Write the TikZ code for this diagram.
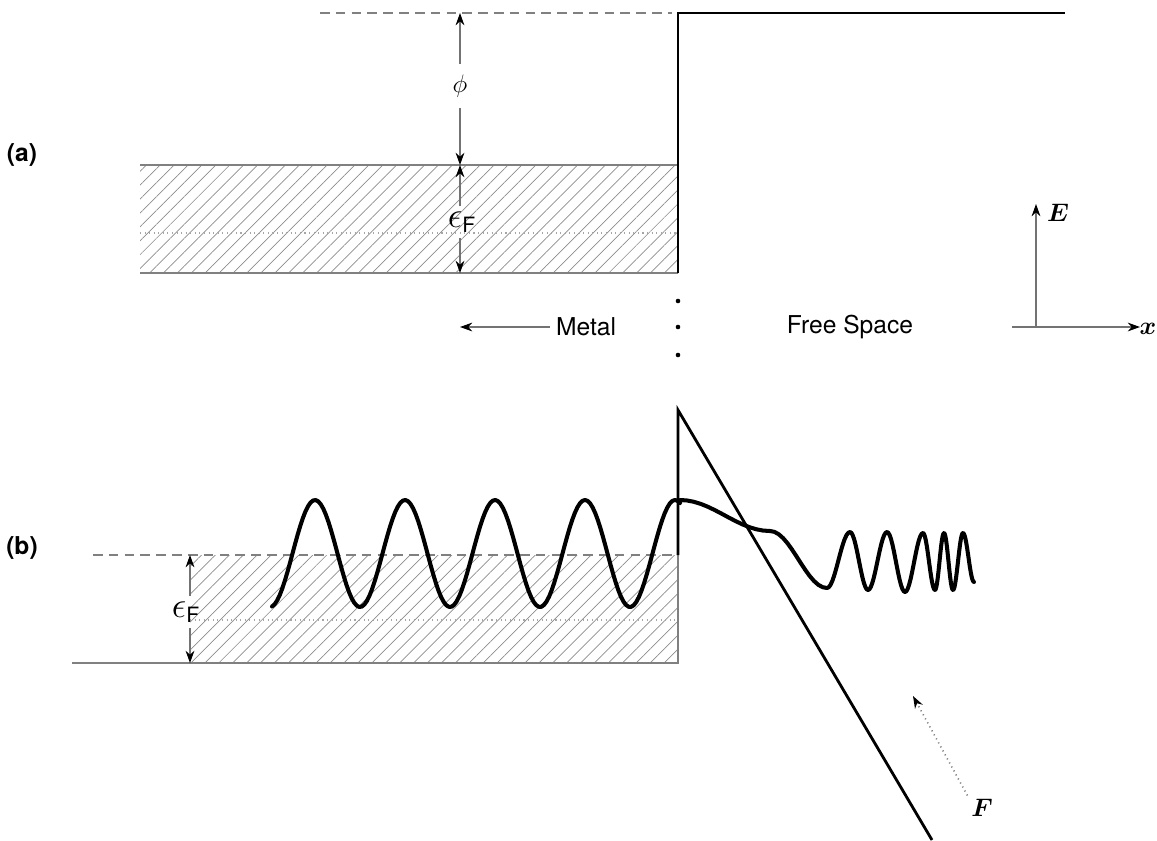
\documentclass[tikz,border=0pt]{standalone}
\usepackage{amsmath,amssymb,bm}
\usepackage{fontspec}
\setsansfont{TeX Gyre Heros}
\usepackage{tikz}
\usetikzlibrary{arrows.meta,patterns.meta,positioning}
\tikzstyle{band} = [pattern={Lines[angle=45,distance=5.6pt,line width=0.4pt]}, pattern color=black!45]
\tikzstyle{level} = [draw=black!50, line width=0.6pt]
\tikzstyle{barrier} = [line width=1.6pt, line join=miter]
\tikzstyle{dim} = [draw=black!55, line width=0.6pt, -{Stealth[black,length=7pt,width=5pt]}]
\tikzstyle{psi} = [line width=2.3pt, line cap=round, line join=round]

\begin{document}
\begin{tikzpicture}[x=0.02cm, y=-0.02cm, font=\fontsize{14}{16}\selectfont\sffamily,
    tag/.style={font=\fontsize{14}{16}\selectfont\sffamily\bfseries},
    sym/.style={inner sep=6pt, fill=white},
    eps/.style={inner sep=3pt, font=\fontsize{21}{23}\selectfont}]
    \useasboundingbox (0,0) rectangle (1157,840);

    % (a) flat potential step
    \path[band] (140,165) rectangle (678,273);
    \draw[black!35, dotted, line width=0.6pt] (140,233) -- (678,233);
    \draw[level] (140,165) -- (678,165);
    \draw[level] (140,273) -- (678,273);
    \draw[level, dash pattern=on 5.5pt off 3.5pt] (320,13) -- (672,13);
    \coordinate (wallA) at (678,273);
    \coordinate (topA) at (678,13);
    \coordinate (endA) at (1065,13);
    \draw[barrier] (wallA) -- (topA) -- (endA);

    \node[tag] (lblA) at (22,155) {(a)};
    \node[sym] (phi) at (460,86) {$\phi$};
    \node[eps] (efA) at (462,222) {$\epsilon_{\textsf{\fontsize{12}{14}\selectfont F}}$};
    \coordinate (vacA) at (460,13);
    \coordinate (fermiA) at (460,165);
    \coordinate (botA) at (460,273);
    \draw[dim] (phi) -- (vacA);
    \draw[dim] (phi) -- (fermiA);
    \draw[dim] (efA.north -| fermiA) -- (fermiA);
    \draw[dim] (efA.south -| botA) -- (botA);

    % middle line
    \node (metal) at (586,327) {Metal};
    \coordinate (metalTip) at (460,327);
    \draw[dim] (metal) -- (metalTip);
    \foreach \y in {301,327,355}
        \fill (678,\y) circle (1.3pt);
    \node (free) at (850,327) {Free Space};

    % axes
    \coordinate (orig) at (1036,327);
    \coordinate (Etip) at (1036,204);
    \coordinate (xtail) at (1012,327);
    \coordinate (xtip) at (1140,327);
    \node[inner sep=1pt] (Elbl) at (1058,213) {$\bm{E}$};
    \node[inner sep=1pt] (xlbl) at (1148,329) {$\bm{x}$};
    \draw[dim] (orig) -- (Etip);
    \draw[dim] (xtail) -- (xtip);

    % (b) with applied field
    \path[band] (190,555) rectangle (678,663);
    \draw[black!35, dotted, line width=0.6pt] (190,620) -- (678,620);
    \draw[level, dash pattern=on 5.5pt off 3.5pt] (93,555) -- (678,555);
    \draw[level] (72,663) -- (678,663) -- (678,555);
    \coordinate (wallB) at (678,555);
    \coordinate (topB) at (678,410);
    \coordinate (endB) at (932,840);
    \draw[barrier] (wallB) -- (topB) -- (endB);

    \node[tag] (lblB) at (22,548) {(b)};
    \node[eps] (efB) at (186,612) {$\epsilon_{\textsf{\fontsize{12}{14}\selectfont F}}$};
    \coordinate (fermiB) at (190,555);
    \coordinate (botB) at (190,663);
    \draw[dim] (efB.north -| fermiB) -- (fermiB);
    \draw[dim] (efB.south -| botB) -- (botB);

    % wave function
    \draw[psi] plot[domain=272:680, samples=160] (\x,{553.5-53.5*cos(4*(\x-315))})
        \foreach \xa/\xb/\ya/\yb in {680/770/500/531, 770/827/531/588, 827/850/588/532,
            850/868/532/590, 868/887/590/532, 887/905/532/592, 905/923/592/533,
            923/935/533/590, 935/944/590/533, 944/953/533/590, 953/963/590/533,
            963/974/533/582} {
        -- plot[domain=\xa:\xb, samples=14] (\x,{(\ya+\yb)/2+(\ya-\yb)/2*cos(180*(\x-\xa)/(\xb-\xa))})
        };

    % field
    \node[inner sep=2pt] (Flbl) at (982,808) {$\bm{F}$};
    \coordinate (Ftip) at (913,696);
    \draw[dim, dotted, line width=0.9pt] (Flbl.north west) -- (Ftip);
\end{tikzpicture}
\end{document}
